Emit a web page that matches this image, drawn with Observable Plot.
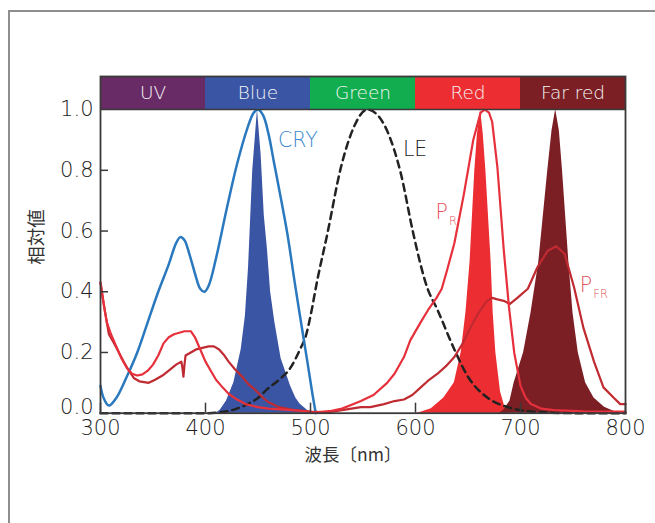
<!DOCTYPE html>
<html><head><meta charset="utf-8">
<script src="https://cdn.jsdelivr.net/npm/d3@7"></script>
<script src="https://cdn.jsdelivr.net/npm/@observablehq/plot@0.6"></script>
<style>
body{margin:0;background:#fff;}
#wrap{position:relative;width:655px;height:523px;overflow:hidden;}
#wrap svg{position:absolute;left:0;top:0;}
#frame{position:absolute;left:8px;top:10px;width:700px;height:600px;border-top:2px solid #8e8e8e;border-left:2px solid #8e8e8e;pointer-events:none;}
</style></head><body><div id="wrap"></div>
<script>
// Spectral bands (top colour strip)
const bandNames = ["UV", "Blue", "Green", "Red", "Far red"];
const bandStart = [300, 400, 500, 600, 700];
const bandEnd = [400, 500, 600, 700, 800];
const bandColors = ["#682b66", "#3b55a5", "#11ad4f", "#ec2d32", "#7b1f25"];

// Axis ticks
const xTicks = [300, 400, 500, 600, 700, 800];
const yTicks = [0, 0.2, 0.4, 0.6, 0.8, 1.0];
const xTitle = "波長〔nm〕";
const yTitle = "相対値";

// CRY (cryptochrome) absorption
const cryNm = [300, 303, 308, 315, 325, 335, 345, 355, 365, 372, 376, 380, 385, 390, 395, 399, 403, 410, 420, 430, 440, 446, 450, 455, 460, 465, 470, 478, 485, 490, 497, 502, 505];
const cryVal = [0.09, 0.05, 0.025, 0.05, 0.12, 0.2, 0.3, 0.4, 0.49, 0.56, 0.58, 0.57, 0.52, 0.46, 0.41, 0.4, 0.42, 0.51, 0.67, 0.82, 0.94, 0.99, 1.0, 0.98, 0.92, 0.83, 0.74, 0.59, 0.43, 0.32, 0.17, 0.06, 0.0];

// LE (luminous efficiency)
const leNm = [300, 350, 400, 414, 430, 440, 450, 459, 470, 481, 490, 496, 500, 506, 516, 529, 541, 554, 563, 573, 586, 598, 611, 621, 637, 650, 669, 688, 700, 720, 760, 800];
const leVal = [0, 0, 0, 0.003, 0.015, 0.03, 0.05, 0.08, 0.11, 0.15, 0.21, 0.26, 0.32, 0.43, 0.59, 0.81, 0.94, 1.0, 0.985, 0.93, 0.79, 0.59, 0.415, 0.34, 0.21, 0.12, 0.05, 0.02, 0.01, 0.003, 0.0, 0.0];

// P_R phytochrome
const prNm = [300, 303, 306, 310, 315, 320, 325, 330, 335, 340, 345, 350, 355, 360, 365, 370, 375, 380, 386, 390, 395, 400, 405, 410, 415, 422, 430, 438, 450, 460, 475, 490, 505, 520, 530, 541, 548, 560, 573, 580, 589, 595, 605, 612, 620, 625, 630, 637, 646, 655, 662, 666, 670, 673, 678, 684, 689, 694, 700, 705, 710, 720, 732, 760, 800];
const prVal = [0.43, 0.36, 0.3, 0.26, 0.22, 0.18, 0.15, 0.13, 0.124, 0.128, 0.14, 0.16, 0.19, 0.23, 0.25, 0.26, 0.265, 0.27, 0.27, 0.25, 0.21, 0.17, 0.14, 0.11, 0.09, 0.064, 0.045, 0.03, 0.02, 0.015, 0.012, 0.008, 0.003, 0.008, 0.015, 0.03, 0.04, 0.06, 0.1, 0.13, 0.185, 0.24, 0.3, 0.34, 0.38, 0.41, 0.47, 0.56, 0.72, 0.9, 0.99, 1.0, 0.99, 0.96, 0.81, 0.54, 0.35, 0.2, 0.09, 0.05, 0.03, 0.015, 0.01, 0.006, 0.005];

// P_FR phytochrome
const pfrNm = [300, 304, 308, 313, 317.5, 322, 327, 332, 337, 346, 352, 359, 365, 372, 377, 378, 379, 380, 381, 386, 391, 397, 403, 408, 413, 418, 422, 428, 435, 441, 448, 455, 460, 470, 484, 500, 516, 530, 548, 557, 570, 580, 589, 597, 605, 613, 621, 629, 637, 645, 652, 660, 668, 673, 678, 684, 690, 697, 707, 716, 726, 734, 742, 751, 760, 770, 779, 789, 795, 800];
const pfrVal = [0.43, 0.34, 0.26, 0.23, 0.2, 0.17, 0.14, 0.115, 0.105, 0.1, 0.11, 0.124, 0.14, 0.16, 0.17, 0.15, 0.12, 0.16, 0.19, 0.2, 0.21, 0.215, 0.22, 0.22, 0.21, 0.19, 0.17, 0.145, 0.12, 0.095, 0.075, 0.05, 0.036, 0.02, 0.01, 0.005, 0.003, 0.01, 0.02, 0.02, 0.03, 0.04, 0.045, 0.06, 0.085, 0.11, 0.13, 0.155, 0.185, 0.23, 0.28, 0.33, 0.37, 0.38, 0.375, 0.37, 0.36, 0.38, 0.41, 0.48, 0.535, 0.55, 0.525, 0.415, 0.28, 0.17, 0.085, 0.05, 0.03, 0.03];

// LED emission spectra (filled)
const blueLedNm = [410, 414, 420, 427, 434, 438, 441, 445, 449.5, 453, 456, 459, 462, 466, 472, 478, 481, 486, 490, 497, 502];
const blueLedVal = [0, 0.01, 0.04, 0.1, 0.21, 0.32, 0.48, 0.8, 1.0, 0.85, 0.65, 0.54, 0.4, 0.3, 0.18, 0.12, 0.09, 0.05, 0.03, 0.01, 0];
const redLedNm = [600, 605, 615, 627, 637, 643.5, 648, 652, 656.5, 659, 662, 664.5, 667, 672, 674, 676.5, 681, 686, 690];
const redLedVal = [0, 0.003, 0.015, 0.05, 0.1, 0.2, 0.33, 0.5, 0.8, 0.92, 1.0, 0.92, 0.8, 0.5, 0.33, 0.2, 0.07, 0.01, 0];
const farLedNm = [680, 684, 690, 694, 703, 710, 717.5, 726, 730, 733.5, 737, 740, 746, 750, 755, 762, 770, 780, 790, 795];
const farLedVal = [0, 0.01, 0.04, 0.1, 0.2, 0.33, 0.5, 0.8, 0.93, 1.0, 0.93, 0.8, 0.5, 0.33, 0.2, 0.1, 0.05, 0.02, 0.005, 0];

const rows = (xs, ys) => xs.map((x, i) => ({nm: x, v: ys[i]}));
const bands = bandNames.map((n, i) => ({name: n, start: bandStart[i], end: bandEnd[i], color: bandColors[i]}));

// curve labels (annotation positions)
const labels = [
  {t: "CRY", x: 469, y: 0.8975, size: 20.5, color: "#3b88cb"},
  {t: "LE", x: 588, y: 0.870, size: 20.5, color: "#222222"},
  {t: "P", x: 619, y: 0.6626, size: 20.5, color: "#e8525c"},
  {t: "R", x: 631.8, y: 0.6306, size: 11.5, color: "#e8525c"},
  {t: "P", x: 756.5, y: 0.4198, size: 20.5, color: "#e0545c"},
  {t: "FR", x: 769.4, y: 0.390, size: 11.5, color: "#e0545c"}
];

const W = 655, H = 523, mL = 100, mR = 30, mT = 76, mB = 110.3;
const frameW = W - mL - mR, frameH = H - mT - mB;
const latin = "'DejaVu Sans', Verdana, sans-serif";
const cjk = "'Noto Sans CJK JP', sans-serif";

const chart = Plot.plot({
  width: W, height: H,
  marginLeft: mL, marginRight: mR, marginTop: mT, marginBottom: mB,
  x: {domain: [300, 800]},
  y: {domain: [0, 1.109]},
  style: {fontFamily: latin, fontSize: "21px", color: "#222", background: "transparent", fontWeight: 200},
  marks: [
    Plot.rect(bands, {x1: "start", x2: "end", y1: 1.0, y2: 1.109, fill: "color"}),
    Plot.text(bands, {x: d => (d.start + d.end) / 2, y: 1.0545, text: "name", fill: "#f6f6f6", fontSize: 18.5}),
    Plot.areaY(rows(blueLedNm, blueLedVal), {x: "nm", y: "v", fill: "#3b55a5", curve: "linear"}),
    Plot.areaY(rows(redLedNm, redLedVal), {x: "nm", y: "v", fill: "#ec2d32", curve: "linear"}),
    Plot.areaY(rows(farLedNm, farLedVal), {x: "nm", y: "v", fill: "#7b1f25", curve: "linear"}),
    Plot.line(rows(leNm, leVal), {x: "nm", y: "v", stroke: "#222", strokeWidth: 2.5, strokeDasharray: "7,5", curve: "monotone-x"}),
    Plot.line(rows(cryNm, cryVal), {x: "nm", y: "v", stroke: "#2a79bf", strokeWidth: 2.5, curve: "catmull-rom"}),
    Plot.line(rows(pfrNm, pfrVal), {x: "nm", y: "v", stroke: "#c02a31", strokeWidth: 2.2, curve: "linear"}),
    Plot.line(rows(prNm, prVal), {x: "nm", y: "v", stroke: "#e6303c", strokeWidth: 2.2, curve: "linear"}),
    Plot.frame({stroke: "#3a3a3a", strokeWidth: 1.8}),
    Plot.ruleY([1.0], {stroke: "#3a3a3a", strokeWidth: 1.5}),
    Plot.tickX(xTicks, {x: d => d, insetTop: frameH - 10, stroke: "#3a3a3a", strokeWidth: 1.5}),
    Plot.tickY(yTicks.slice(0, -1), {y: d => d, insetRight: frameW - 8, stroke: "#3a3a3a", strokeWidth: 1.5}),
    Plot.axisX({ticks: xTicks, tickSize: 0, tickPadding: 7, label: null, tickFormat: d => String(d), fill: "#222"}),
    Plot.axisY({ticks: yTicks.slice(1), tickSize: 0, tickPadding: 7, label: null, tickFormat: d3.format(".1f"), fill: "#222"}),
    Plot.text(yTicks.slice(0, 1), {y: d => d, frameAnchor: "left", dx: -7, dy: -6, textAnchor: "end", text: d3.format(".1f"), fill: "#222"}),
    Plot.text([yTitle], {frameAnchor: "left", dx: -63, dy: 20, rotate: -90, fontSize: 18.5, fill: "#333", fontFamily: cjk, fontWeight: 400}),
    Plot.text([xTitle], {frameAnchor: "bottom", dx: -10, dy: 48, fontSize: 17.5, fill: "#333", fontFamily: cjk, fontWeight: 400}),
    Plot.text(labels, {x: "x", y: "y", text: "t", fontSize: "size", fill: "color", textAnchor: "start"})
  ]
});
const wrap = document.getElementById("wrap");
wrap.appendChild(chart);
const fr = document.createElement("div");
fr.id = "frame";
wrap.appendChild(fr);
</script>
</body></html>
